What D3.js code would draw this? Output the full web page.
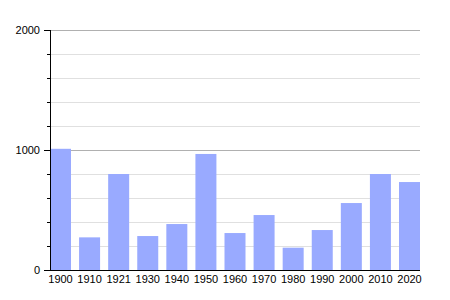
<!DOCTYPE html>
<html lang="en">
<head>
    <meta charset="UTF-8">
    <title>bars</title>
    <script src="https://cdn.jsdelivr.net/npm/d3@7"></script>
    <style>
        body{ margin:0; background:#fff; }
        svg text{ font-family:"Liberation Sans", Arial, sans-serif; font-size:11px; fill:#000; }
    </style>
</head>
<body>
</body>
<script type="text/javascript">

    let years = ["1900","1910","1921","1930","1940","1950","1960","1970","1980","1990","2000","2010","2020"];
    let values = [1010, 272, 800, 283, 383, 967, 308, 458, 186, 333, 558, 800, 733];
    let majorTicks = [0, 1000, 2000];
    let minorTicks = [200, 400, 600, 800, 1200, 1400, 1600, 1800];

    let width = 450, height = 300;
    let plotLeft = 50, plotRight = 420, plotTop = 30, plotBottom = 270;

    let svg = d3.select("body")
        .append("svg")
        .attr("width", width)
        .attr("height", height);

    let x = d3.scaleBand()
        .domain(years)
        .range([plotLeft, plotRight])
        .paddingInner(0.278)
        .paddingOuter(0);

    let y = d3.scaleLinear()
        .domain([0, 2000])
        .range([plotBottom, plotTop]);

    // grid
    svg.append("g")
        .selectAll("line")
        .data(minorTicks)
        .join("line")
        .attr("x1", plotLeft).attr("x2", plotRight)
        .attr("y1", d => y(d) + 0.5).attr("y2", d => y(d) + 0.5)
        .attr("stroke", "#e0e0e0");
    svg.append("g")
        .selectAll("line")
        .data(majorTicks.slice(1))
        .join("line")
        .attr("x1", plotLeft).attr("x2", plotRight)
        .attr("y1", d => y(d) + 0.5).attr("y2", d => y(d) + 0.5)
        .attr("stroke", "#b0b0b0");

    // bars
    svg.append("g")
        .selectAll("rect")
        .data(values)
        .join("rect")
        .attr("x", (d, i) => x(years[i]))
        .attr("y", d => y(d))
        .attr("width", x.bandwidth())
        .attr("height", d => y(0) - y(d))
        .attr("fill", "#99aaff");

    // y axis
    let yAxis = d3.axisLeft(y)
        .tickValues(majorTicks)
        .tickFormat(d3.format("d"))
        .tickSize(6)
        .tickPadding(4);
    let yg = svg.append("g")
        .attr("transform", `translate(${plotLeft},0)`)
        .call(yAxis);
    yg.attr("font-size", null).attr("font-family", null);
    yg.select(".domain").attr("stroke", "#000").attr("d", `M0.5,${plotTop}V${plotBottom}`);
    yg.selectAll(".minor")
        .data(minorTicks)
        .join("line")
        .attr("class", "minor")
        .attr("x1", -3).attr("x2", 0)
        .attr("y1", d => y(d) + 0.5).attr("y2", d => y(d) + 0.5)
        .attr("stroke", "#000");

    // x axis
    let xAxis = d3.axisBottom(x)
        .tickSize(0)
        .tickPadding(5);
    let xg = svg.append("g")
        .attr("transform", `translate(0,${plotBottom})`)
        .call(xAxis);
    xg.attr("font-size", null).attr("font-family", null);
    xg.select(".domain").attr("stroke", "#000").attr("d", `M${plotLeft},0.5H${plotRight}`);

</script>
</html>
